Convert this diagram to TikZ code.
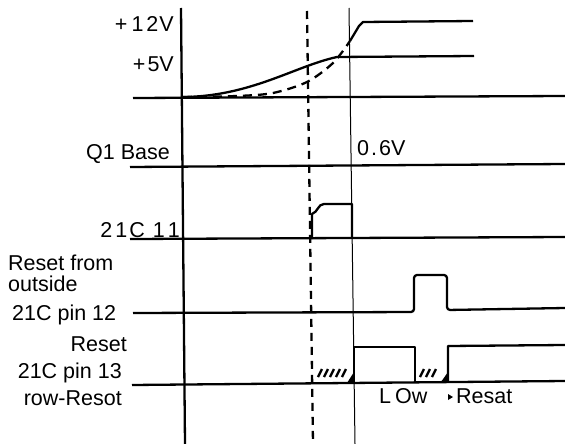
\documentclass[tikz,border=0pt]{standalone}
\usepackage{fontspec}
\setmainfont{Liberation Sans}
\usetikzlibrary{calc,positioning,arrows}

\tikzset{
  lbl/.style={font=\fontsize{21.5}{25}\selectfont, inner sep=0pt},
  sig/.style={line width=2.3pt, line join=round},
  hatchline/.style={line width=2.4pt}
}

\begin{document}
\begin{tikzpicture}[x=1pt,y=-1pt]

\useasboundingbox (0,0) rectangle (565,444);

  \coordinate (axT) at (181,8);
  \coordinate (axB) at (185,444);
  \coordinate (tAT) at (307,11);
  \coordinate (tAB) at (313,444);
  \coordinate (tBT) at (349,8);
  \coordinate (tBB) at (355,444);

  \draw[line width=2.3pt] (axT) -- (axB);
  \draw[line width=2.3pt, dash pattern=on 8pt off 6pt] (tAT) -- (tAB);
  \draw[line width=1pt] (tBT) -- (tBB);

  % base lines
  \draw[sig] (133,98) -- (565,96);
  \draw[sig] (130,167) -- (565,164);
  \draw[sig] (130,239) -- (565,237);
  \draw[sig] (132,385) -- (565,381);

  % supply ramps
  \draw[sig] (181,97) .. controls (250,97) and (295,66) .. (337,57) -- (474,56);
  \draw[sig, dash pattern=on 9pt off 6pt] plot[smooth] coordinates {(183,97) (237,96) (273,93) (307,82) (333,63) (350,41)};
  \draw[sig] (350,41) -- (359,26) -- (363,22) -- (473,21);

  % 21C 11
  \draw[sig] (312,239) -- (312,214) .. controls (318,212) and (318,204) .. (324,204) -- (352,204) -- (352,238);

  % pin 12
  \draw[sig, rounded corners=3pt] (133,313) -- (414,312) -- (414,275) -- (447,275) -- (447,310) -- (565,308);

  % pin 13
  \draw[sig] (354,384) -- (354,347) -- (415,347) -- (415,383);
  \draw[sig] (448,382) -- (448,346) -- (565,345);

  \foreach \x in {318,324,...,342}
    \draw[hatchline] (\x,377) -- (\x+4,369);
  \fill (347,383) -- (354,372) -- (354,383) -- cycle;
  \foreach \x in {420,426,432}
    \draw[hatchline] (\x,377) -- (\x+4,369);
  \fill (441,382) -- (448,372) -- (448,382) -- cycle;

  \fill (448,394) -- (453,397) -- (448,400) -- cycle;

  \node[lbl, anchor=base east] (v12) at (174,32) {+\hspace{4pt}1\hspace{3pt}2\hspace{1pt}V};
  \node[lbl, anchor=base east] (v5) at (174,72) {+\hspace{2pt}5V};
  \node[lbl, anchor=base east] (qbase) at (170,159) {Q1 Base};
  \node[lbl, anchor=base west] (vth) at (357,155) {0\hspace{2pt}.\hspace{2pt}6V};
  \node[lbl, anchor=base east] (ic11) at (180,237) {2\hspace{3pt}1\hspace{2pt}C\hspace{8pt}1\hspace{3pt}1};
  \node[lbl, anchor=base west] (rfrom) at (8,270) {Reset from};
  \node[lbl, anchor=base west] (rout) at (8,291) {outside};
  \node[lbl, anchor=base west] (pin12) at (12,320) {21C pin 12};
  \node[lbl, anchor=base east] (rst) at (127,351) {Reset};
  \node[lbl, anchor=base east] (pin13) at (122,378) {21C pin 13};
  \node[lbl, anchor=base east] (lrst) at (122,405) {row-Resot};
  \node[lbl, anchor=base west] (low) at (379,403) {L\hspace{4pt}Ow};
  \node[lbl, anchor=base west] (rsat) at (456,403) {Resat};

\end{tikzpicture}
\end{document}
